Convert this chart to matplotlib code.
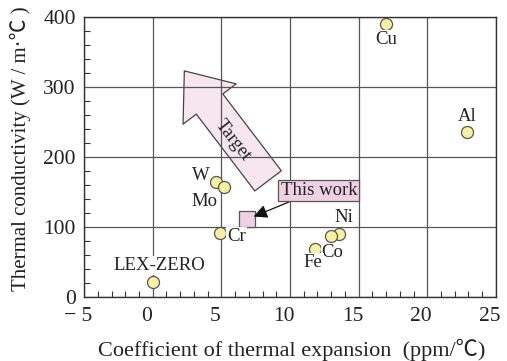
import matplotlib
matplotlib.use("Agg")
import matplotlib.pyplot as plt
from matplotlib.patches import FancyArrowPatch
from matplotlib.transforms import ScaledTranslation
from matplotlib.ticker import MultipleLocator

plt.rcParams['font.family'] = ['Liberation Serif', 'Noto Sans CJK JP', 'DejaVu Serif']

# thermal expansion (ppm/C) and thermal conductivity (W/m.C)
metals = ['Cu', 'Al', 'W', 'Mo', 'Cr', 'LEX-ZERO', 'Ni', 'Co', 'Fe']
cte = [17.0, 22.9, 4.6, 5.2, 4.9, 0.0, 13.6, 13.0, 11.8]
conductivity = [390, 236, 164, 157, 91, 21, 90, 87, 69]

this_work_cte = 6.9
this_work_k = 111

xticks = [-5, 0, 5, 10, 15, 20, 25]
xtick_labels = ['\u2212 5', '0', '5', '10', '15', '20', '25']
yticks = [0, 100, 200, 300, 400]

# label offsets in points per metal
label_off = {
    'Cu': (0, -11),
    'Al': (0, 11),
    'W': (-11, 5),
    'Mo': (-14, -10),
    'Cr': (12, -2),
    'LEX-ZERO': (5, 12),
    'Ni': (3, 12),
    'Co': (1, -12),
    'Fe': (-1, -10),
}

fig = plt.figure(figsize=(5.07, 3.61), dpi=100)
ax = fig.add_axes([0.166, 0.177, 0.812, 0.776])

ax.set_xlim(-5, 25)
ax.set_ylim(0, 400)
ax.set_xticks(xticks)
ax.set_xticklabels(xtick_labels)
ax.set_yticks(yticks)
ax.xaxis.set_minor_locator(MultipleLocator(1))
ax.yaxis.set_minor_locator(MultipleLocator(20))
ax.tick_params(which='major', length=0, labelsize=15.5, labelcolor='#222222')
ax.tick_params(axis='x', which='major', pad=7)
ax.tick_params(axis='y', which='major', pad=6)
ax.tick_params(which='minor', direction='in', length=4, width=0.8, color='#333333')
for sp in ax.spines.values():
    sp.set_color('#333333')
    sp.set_linewidth(1.0)

ax.set_axisbelow(True)
ax.grid(True, which='major', color='#555555', linewidth=0.9)

# shift x tick labels slightly left
shift = ScaledTranslation(-6 / 100, 0, fig.dpi_scale_trans)
for lab in ax.get_xticklabels():
    lab.set_transform(lab.get_transform() + shift)

ax.set_xlabel('Coefficient of thermal expansion  (ppm/℃)', fontsize=16, color='#222222')
ax.set_ylabel('Thermal conductivity (W / m·℃ )', fontsize=15, color='#222222')
ax.xaxis.set_label_coords(0.505, -0.15)
ax.yaxis.set_label_coords(-0.13, 0.53)

# target arrow
target = FancyArrowPatch((8.4, 166), (2.3, 323),
                         arrowstyle='simple,head_length=0.30,head_width=0.48,tail_width=0.24',
                         mutation_scale=100, shrinkA=0, shrinkB=0,
                         facecolor='#f8e6ef', edgecolor='#444444', linewidth=0.9, zorder=0.3)
ax.add_patch(target)
ax.text(5.85, 224, 'Target', rotation=-52, fontsize=13.5, ha='center', va='center',
        color='#222222', rotation_mode='anchor')

ax.scatter(cte, conductivity, s=75, facecolor='#f6f0a2', edgecolor='#555555',
           linewidth=0.9, zorder=3)

for name, x, y in zip(metals, cte, conductivity):
    dx, dy = label_off[name]
    ax.annotate(name, (x, y), xytext=(dx, dy), textcoords='offset points',
                ha='center', va='center', fontsize=13.5, color='#222222', zorder=4,
                bbox=dict(boxstyle='square,pad=0.05', fc='white', ec='none'))

ax.scatter([this_work_cte], [this_work_k], s=120, marker='s', facecolor='#f0d0e3',
           edgecolor='#555555', linewidth=0.9, zorder=3)
ax.annotate('This work', (this_work_cte + 0.45, this_work_k + 4), xytext=(12.1, 152),
            textcoords='data', ha='center', va='center', fontsize=13.5, color='#222222',
            zorder=4,
            bbox=dict(boxstyle='square,pad=0.12', fc='#f0d0e3', ec='#555555', lw=0.9),
            arrowprops=dict(arrowstyle='-|>,head_length=0.6,head_width=0.3',
                            color='#111111', lw=0.9, shrinkA=0, shrinkB=0,
                            relpos=(0.2, 0.0)))

fig.savefig('out.png', dpi=100)
